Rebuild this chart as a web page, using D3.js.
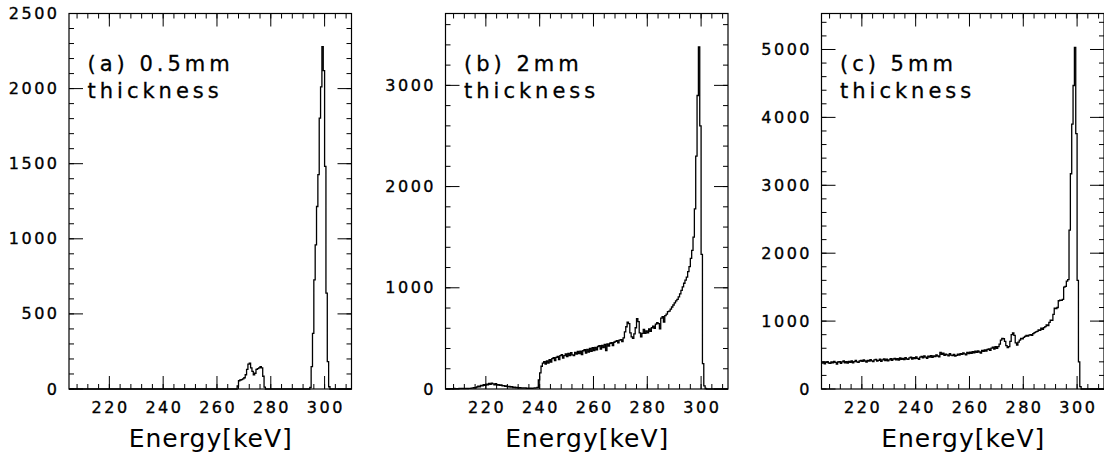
<!DOCTYPE html>
<meta charset="utf-8">

<style>
  body {
    margin: 0;
    background: #fff;
  }
  svg {
    display: block;
  }
  .frame {
    fill: none;
    stroke: #000;
    stroke-width: 1.2px;
  }
  .tick {
    stroke: #000;
    stroke-width: 1px;
  }
  .hist {
    fill: none;
    stroke: #000;
    stroke-width: 1.3px;
  }
  text {
    font-family: "DejaVu Sans", sans-serif;
    fill: #000;
  }
  .tickLabel {
    font-size: 16px;
    letter-spacing: 2.5px;
    stroke: #000;
    stroke-width: 0.35px;
  }
  .axisTitle {
    font-size: 25px;
    letter-spacing: 1px;
  }
  .panelName {
    font-size: 21px;
    letter-spacing: 4px;
    stroke: #000;
    stroke-width: 0.3px;
  }
</style>

<body>
  <svg width="1104" height="453"></svg>

  <script src="https://cdn.jsdelivr.net/npm/d3@7"></script>
  <script>

    // energy binning: 0.5 keV bins from 205 to 310 keV
    var eMin = 205, eMax = 310, binWidth = 0.5;

    // counts per bin, rows of 10 bins (5 keV)
    var countsA = [
      0,0,0,0,0,0,0,0,0,0,         // 205
      0,0,0,0,0,0,0,0,0,0,         // 210
      0,0,0,0,0,0,0,0,0,0,         // 215
      0,0,0,0,0,0,0,0,0,0,         // 220
      0,0,0,0,0,0,0,0,0,0,         // 225
      0,0,0,0,0,0,0,0,0,0,         // 230
      0,0,0,0,0,0,0,0,0,0,         // 235
      0,0,0,0,0,0,0,0,0,0,         // 240
      0,0,0,0,0,0,0,0,0,0,         // 245
      0,0,0,0,0,0,0,0,0,0,         // 250
      0,0,0,0,0,0,0,0,0,0,         // 255
      0,0,0,0,0,0,0,0,0,0,         // 260
      0,0,0,0,0,20,55,60,62,68,    // 265
      75,95,130,165,172,140,118,95,105,130,   // 270
      135,140,148,140,85,12,0,0,0,0,          // 275
      0,0,0,0,0,0,0,0,0,0,         // 280
      0,0,0,0,0,0,0,0,0,0,         // 285
      0,0,0,0,0,0,0,0,0,10,        // 290
      149,371,727,960,1215,1427,1804,2011,2280,2120,  // 295
      1482,638,182,15,0,0,0,0,0,0, // 300
      0,0,0,0,0,0,0,0,0,0          // 305
    ];

    var countsB = [
      2,3,2,4,3,2,5,3,4,3,
      5,4,6,5,4,6,5,7,6,8,
      10,14,12,20,28,22,35,30,42,36,
      48,40,55,45,58,50,42,52,38,44,
      36,40,30,34,26,30,22,26,18,22,
      15,18,12,16,10,14,9,12,8,10,
      7,9,6,8,7,9,10,12,15,90,
      160,225,255,270,245,278,255,290,265,300,
      310,280,312,322,290,330,340,305,330,348,
      320,352,330,360,338,330,362,345,372,350,
      375,340,378,390,355,392,365,400,372,408,
      380,412,388,420,428,395,432,410,440,380,
      445,425,452,458,430,462,470,478,455,482,
      488,468,505,565,615,660,645,555,515,500,
      545,605,695,665,555,515,550,590,550,575,
      555,595,570,605,620,600,640,655,645,595,
      700,715,660,725,740,765,770,790,810,830,
      850,870,885,910,940,975,1010,1045,1075,1105,
      1160,1210,1290,1370,1500,1780,2300,2900,3380,2600,
      1330,250,30,5,0,0,0,0,0,0,
      0,0,0,0,0,0,0,0,0,0
    ];

    var countsC = [
      380,398,370,392,402,383,376,400,386,408,
      392,368,398,404,378,400,412,386,402,382,
      408,392,415,385,402,420,400,392,412,422,
      406,428,412,398,422,410,432,415,402,428,
      435,412,422,440,408,430,442,420,438,415,
      430,448,422,442,452,430,448,425,458,438,
      450,432,462,442,436,458,470,440,462,448,
      472,452,438,468,480,460,488,468,452,482,
      470,492,465,488,476,502,486,472,540,512,
      528,496,515,502,488,520,498,492,510,485,
      495,512,500,522,510,532,516,502,538,522,
      542,526,550,532,558,538,562,545,528,568,
      555,575,558,582,592,568,602,618,588,622,
      600,625,660,720,745,740,700,640,610,625,
      700,800,828,790,680,648,690,720,745,740,
      760,775,790,780,794,800,790,815,830,840,
      850,870,865,895,880,905,920,945,935,980,
      1015,1010,1100,1190,1185,1200,1300,1310,1305,1320,
      1500,1510,1590,1610,2340,3170,3900,4470,5030,3760,
      1600,400,35,0,0,0,0,0,0,0,
      0,0,0,0,0,0,0,0,0,0
    ];

    var panelNames = ["(a) 0.5mm", "(b) 2mm", "(c) 5mm"];
    var panelCounts = [countsA, countsB, countsC];
    var yMaxes = [2500, 3710, 5530];
    var yMajorSteps = [500, 1000, 1000];
    var yMinorSteps = [100, 200, 200];
    var xMajorTicks = [220, 240, 260, 280, 300];
    var xMinorStep = 4;

    var panelLefts = [69, 445.5, 821.5];
    var panelW = 282.5, frameTop = 13.5, frameBottom = 389;
    var labelSpacing = 2.5;

    var svg = d3.select("svg");

    panelCounts.forEach(function(counts, p) {
      var g = svg.append("g")
        .attr("transform", "translate(" + panelLefts[p] + ",0)");

      var x = d3.scaleLinear().domain([eMin, eMax]).range([0, panelW]);
      var y = d3.scaleLinear().domain([0, yMaxes[p]]).range([frameBottom, frameTop]);

      // histogram outline as steps
      var pts = counts.map(function(c, i) { return [eMin + i * binWidth, c]; });
      pts.push([eMax, counts[counts.length - 1]]);
      var line = d3.line()
        .x(function(d) { return x(d[0]); })
        .y(function(d) { return y(d[1]); })
        .curve(d3.curveStepAfter);
      g.append("path")
        .datum(pts)
        .attr("class", "hist")
        .attr("d", line);

      // ticks on all four sides, pointing in
      var xMinor = d3.range(208, eMax, xMinorStep);
      var yMajor = d3.range(0, yMaxes[p] + 1, yMajorSteps[p]);
      var yMinor = d3.range(0, yMaxes[p], yMinorSteps[p]);

      function xTicks(vals, len) {
        vals.forEach(function(v) {
          g.append("line").attr("class", "tick")
            .attr("x1", x(v)).attr("x2", x(v))
            .attr("y1", frameBottom).attr("y2", frameBottom - len);
          g.append("line").attr("class", "tick")
            .attr("x1", x(v)).attr("x2", x(v))
            .attr("y1", frameTop).attr("y2", frameTop + len);
        });
      }
      function yTicks(vals, len) {
        vals.forEach(function(v) {
          g.append("line").attr("class", "tick")
            .attr("x1", 0).attr("x2", len)
            .attr("y1", y(v)).attr("y2", y(v));
          g.append("line").attr("class", "tick")
            .attr("x1", panelW).attr("x2", panelW - len)
            .attr("y1", y(v)).attr("y2", y(v));
        });
      }
      xTicks(xMinor, 5);
      xTicks(xMajorTicks, 13);
      yTicks(yMinor, 5);
      yTicks(yMajor, 14);

      // frame
      g.append("rect")
        .attr("class", "frame")
        .attr("x", 0).attr("y", frameTop)
        .attr("width", panelW).attr("height", frameBottom - frameTop);

      // tick labels (letter-spacing adds after the last glyph, so nudge)
      g.selectAll(".xLab").data(xMajorTicks).enter().append("text")
        .attr("class", "tickLabel")
        .attr("x", function(d) { return x(d) + labelSpacing / 2; })
        .attr("y", 413)
        .attr("text-anchor", "middle")
        .text(function(d) { return d; });

      g.selectAll(".yLab").data(yMajor).enter().append("text")
        .attr("class", "tickLabel")
        .attr("x", -12 + labelSpacing)
        .attr("y", function(d) { return y(d) + 5.5; })
        .attr("text-anchor", "end")
        .text(function(d) { return d; });

      // axis title
      g.append("text")
        .attr("class", "axisTitle")
        .attr("x", panelW / 2 + 0.5)
        .attr("y", 447)
        .attr("text-anchor", "middle")
        .text("Energy[keV]");

      // panel name
      g.append("text")
        .attr("class", "panelName")
        .attr("x", 18.5)
        .attr("y", 70.5)
        .text(panelNames[p]);
      g.append("text")
        .attr("class", "panelName")
        .attr("x", 18.5)
        .attr("y", 98)
        .text("thickness");
    });

  </script>
</body>
